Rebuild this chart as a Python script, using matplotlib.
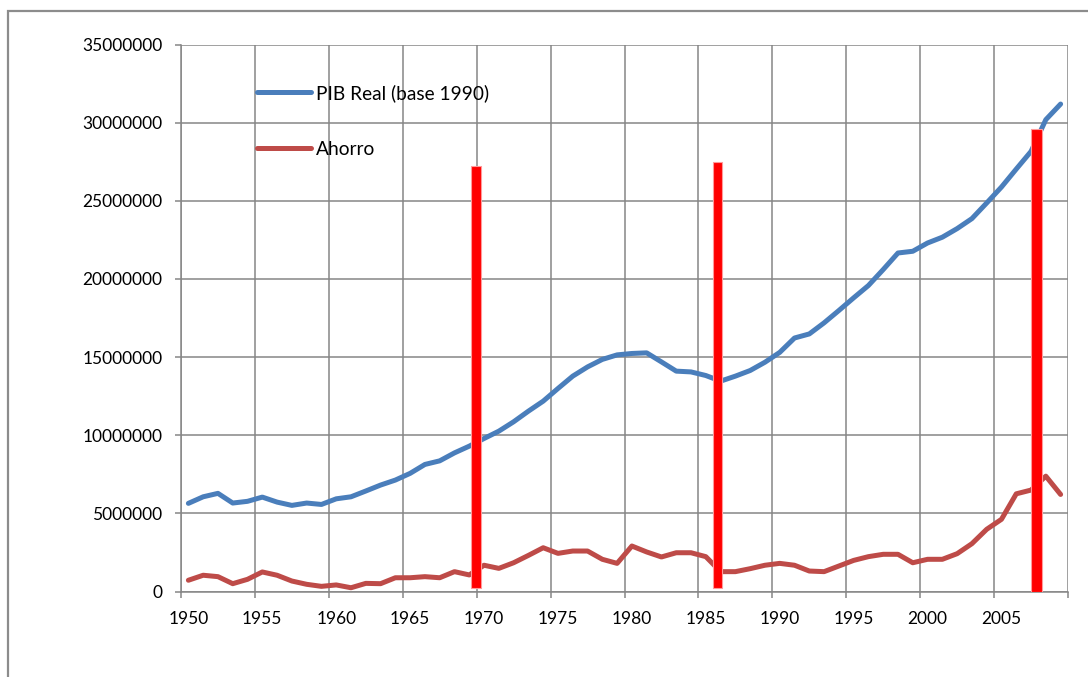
"""PIB Real vs Ahorro, 1950-2009, Excel-style line chart with red marker bars."""
import matplotlib

matplotlib.use("Agg")
import matplotlib.pyplot as plt
import matplotlib.patches as mpatches
from matplotlib.ticker import FixedLocator, StrMethodFormatter

years = list(range(1950, 2010))

pib_real = [
    5.64, 6.06, 6.28, 5.66, 5.77, 6.04, 5.72, 5.51, 5.66, 5.57,
    5.93, 6.06, 6.43, 6.81, 7.13, 7.56, 8.13, 8.36, 8.87, 9.30,
    9.79, 10.26, 10.86, 11.54, 12.18, 12.99, 13.78, 14.37, 14.85, 15.14,
    15.23, 15.27, 14.69, 14.10, 14.05, 13.82, 13.46, 13.78, 14.14, 14.67,
    15.30, 16.22, 16.48, 17.19, 17.98, 18.79, 19.58, 20.60, 21.66, 21.77,
    22.30, 22.67, 23.22, 23.86, 24.86, 25.88, 27.03, 28.16, 30.19, 31.19,
]
ahorro = [
    0.72, 1.04, 0.95, 0.50, 0.78, 1.25, 1.04, 0.67, 0.46, 0.33,
    0.42, 0.24, 0.52, 0.50, 0.88, 0.88, 0.95, 0.88, 1.27, 1.06,
    1.68, 1.48, 1.84, 2.31, 2.80, 2.44, 2.59, 2.59, 2.06, 1.80,
    2.91, 2.53, 2.21, 2.48, 2.48, 2.23, 1.27, 1.27, 1.46, 1.68,
    1.80, 1.68, 1.31, 1.27, 1.63, 1.99, 2.23, 2.38, 2.38, 1.84,
    2.06, 2.06, 2.42, 3.06, 3.98, 4.62, 6.25, 6.49, 7.38, 6.21,
]
pib_real = [v * 1e6 for v in pib_real]
ahorro = [v * 1e6 for v in ahorro]

# red vertical marks drawn over the chart (category position, bottom, top)
mark_pos = [19.45, 35.8, 57.4]
mark_bottom = [0.25e6, 0.25e6, 0.0]
mark_top = [27.2e6, 27.5e6, 29.6e6]
mark_width = [0.62, 0.62, 0.75]

plt.rcParams["font.family"] = ["Lato", "DejaVu Sans"]
plt.rcParams["font.size"] = 12.5

fig = plt.figure(figsize=(10.88, 6.77), dpi=100)
ax = fig.add_axes([181 / 1088, 1 - 591.5 / 677, 887 / 1088, 547 / 677])

# outer chart border (right and bottom lie outside the picture)
fig.patches.append(mpatches.Rectangle(
    (7.5 / 1088, -0.2), 1.2, 1.2 - 10.5 / 677, transform=fig.transFigure,
    fill=False, edgecolor="#8c8c8c", linewidth=1.6, clip_on=False))

x = list(range(len(years)))
ax.plot(x, pib_real, color="#4a7ebb", lw=3.6, solid_joinstyle="round",
        solid_capstyle="round", label="PIB Real (base 1990)", zorder=3)
ax.plot(x, ahorro, color="#be4b48", lw=3.6, solid_joinstyle="round",
        solid_capstyle="round", label="Ahorro", zorder=3)

for p, b, t, w in zip(mark_pos, mark_bottom, mark_top, mark_width):
    ax.bar(p, t - b, bottom=b, width=w, color="#ff0000",
           edgecolor="#ff9a9a", linewidth=0.8, zorder=4)

ax.set_xlim(-0.5, len(years) - 0.5)
ax.set_ylim(0, 35e6)

# labels at every 5th category, grid/ticks at category boundaries
ax.xaxis.set_major_locator(FixedLocator(x[::5]))
ax.set_xticklabels([str(y) for y in years[::5]])
ax.xaxis.set_minor_locator(FixedLocator([i - 0.5 for i in range(0, len(years) + 1, 5)]))
ax.tick_params(axis="x", which="major", length=0, pad=14)
ax.tick_params(axis="x", which="minor", length=4.5, width=1.1, color="#868686")
ax.set_yticks([i * 5e6 for i in range(8)])
ax.yaxis.set_major_formatter(StrMethodFormatter("{x:.0f}"))
ax.tick_params(axis="y", length=4.5, width=1.1, color="#868686", pad=9)

ax.grid(False)
ax.grid(True, axis="y", which="major", color="#868686", lw=1.1)
ax.grid(True, axis="x", which="minor", color="#868686", lw=1.1)
ax.set_axisbelow(True)
for side in ("top", "right"):
    ax.spines[side].set_visible(False)
for side in ("left", "bottom"):
    ax.spines[side].set_color("#868686")
    ax.spines[side].set_linewidth(1.1)

ax.legend(loc="upper left", bbox_to_anchor=(76 / 887, (591.5 - 84) / 547),
          frameon=False, borderpad=0, borderaxespad=0, handlelength=2.8,
          handletextpad=0.26, labelspacing=2.05, fontsize=13.8)

fig.savefig("out.png", dpi=100)
